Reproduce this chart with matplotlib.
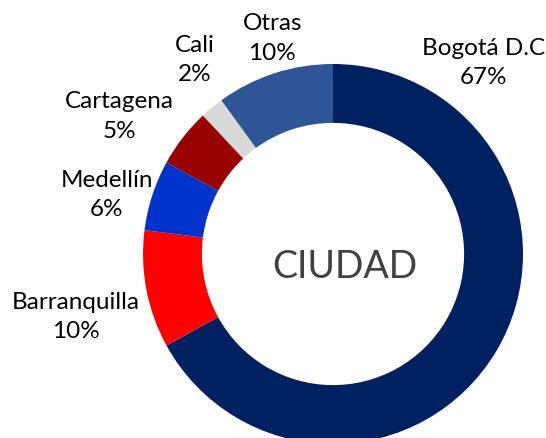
import matplotlib
matplotlib.use("Agg")
from matplotlib import pyplot as plt

# data, clockwise starting at 12 o'clock
ciudades = ["Bogotá D.C", "Barranquilla", "Medellín", "Cartagena", "Cali", "Otras"]
porcentajes = [67, 10, 6, 5, 2, 10]
colores = ["#002060", "#FF0000", "#0033CC", "#990000", "#D9D9D9", "#2F5597"]

# label block centres (data units, radius = 1)
pos_etiquetas = [(0.79, 1.01), (-1.353, -0.326), (-1.19, 0.316),
                 (-1.126, 0.73), (-0.726, 1.026), (-0.32, 1.14)]

plt.rcParams['font.family'] = ['Lato', 'DejaVu Sans']

fig = plt.figure(figsize=(5.46, 4.39), dpi=100)
ax = fig.add_axes([0, 0, 1, 1])

ax.pie(porcentajes, colors=colores, startangle=90, counterclock=False,
       radius=1, wedgeprops=dict(width=0.31, linewidth=0))

for nombre, val, (x, y) in zip(ciudades, porcentajes, pos_etiquetas):
    ax.text(x, y, f"{nombre}\n{val}%", ha='center', va='center',
            fontsize=17.5, color='black', linespacing=1.5)

ax.text(0.063, -0.063, "CIUDAD", ha='center', va='center', fontsize=27,
        color='#404040')

ax.set_xlim(-333 / 190, (546 - 333) / 190)
ax.set_ylim(-(439 - 255) / 190, 255 / 190)
ax.set_aspect('auto')
ax.axis('off')

fig.savefig("out.png", dpi=100)
